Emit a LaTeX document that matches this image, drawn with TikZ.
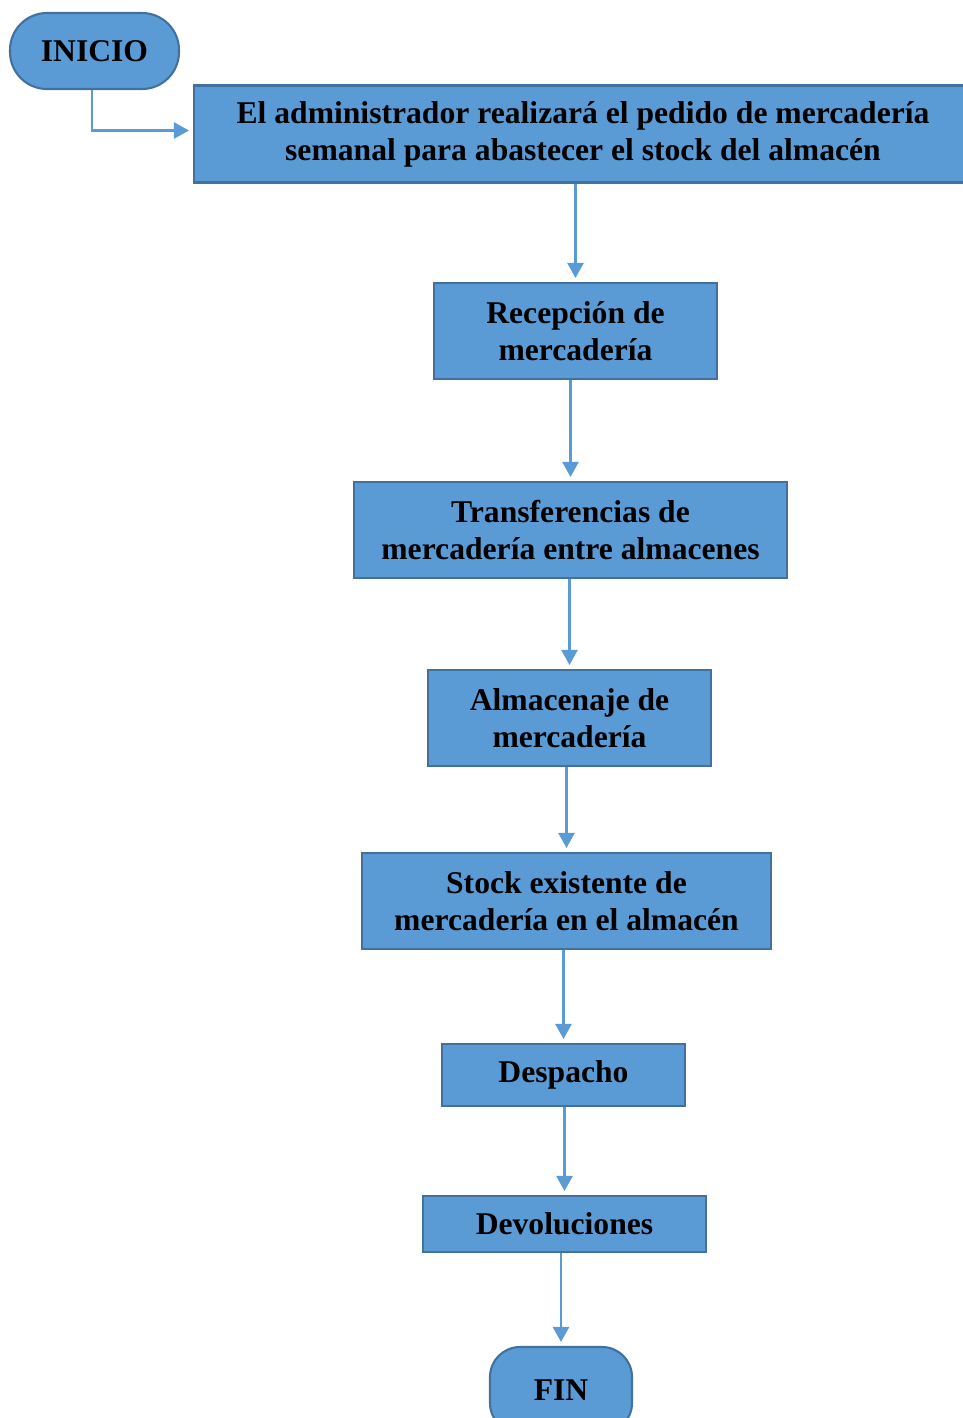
\documentclass[tikz,border=0pt]{standalone}
\usepackage{fontspec}
\setmainfont{Liberation Serif}
\usepackage{xcolor}
\usepackage{tikz}
\usetikzlibrary{arrows.meta,positioning}
\definecolor{cajaazul}{HTML}{5B9BD5}
\definecolor{bordeazul}{HTML}{41719C}

\begin{document}
\begin{tikzpicture}[
  font=\bfseries\fontsize{18}{21}\selectfont,
  paso/.style={draw=bordeazul,line width=1.2pt,fill=cajaazul,align=center,inner sep=2pt},
  terminal/.style={paso,rounded corners=0.74cm},
  flecha/.style={draw=cajaazul,line width=1.5pt,-{Triangle[length=0.3cm,width=0.32cm]},shorten >=0.08cm}
]
\useasboundingbox (0,0) rectangle (19.24,-28.36);

\node[terminal,minimum width=3.38cm,minimum height=1.52cm] (inicio) at (1.89,-1.02) {INICIO};
\node[paso,minimum width=15.56cm,minimum height=1.94cm] (pedido) at (11.66,-2.68) {El administrador realizará el pedido de mercadería\\semanal para abastecer el stock del almacén};
\node[paso,minimum width=5.66cm,minimum height=1.92cm] (recepcion) at (11.51,-6.62) {Recepción de\\mercadería};
\node[paso,minimum width=8.66cm,minimum height=1.92cm] (transfer) at (11.41,-10.60) {Transferencias de\\mercadería entre almacenes};
\node[paso,minimum width=5.66cm,minimum height=1.92cm] (almacenaje) at (11.39,-14.36) {Almacenaje de\\mercadería};
\node[paso,minimum width=8.18cm,minimum height=1.92cm] (stock) at (11.33,-18.02) {Stock existente de\\mercadería en el almacén};
\node[paso,minimum width=4.86cm,minimum height=1.24cm] (despacho) at (11.27,-21.50) {Despacho};
\node[paso,minimum width=5.66cm,minimum height=1.12cm] (devol) at (11.29,-24.48) {Devoluciones};
\node[terminal,rounded corners=0.6cm,minimum width=2.84cm,minimum height=1.72cm] (fin) at (11.22,-27.80) {FIN};

% conectores
\draw[flecha] ([xshift=-0.05cm]inicio.south) |- ([yshift=0.07cm]pedido.west);
\draw[flecha] (pedido.south -| recepcion.north) -- (recepcion.north);
\draw[flecha] (recepcion.south -| transfer.north) -- (transfer.north);
\draw[flecha] (transfer.south -| almacenaje.north) -- (almacenaje.north);
\draw[flecha] (almacenaje.south -| stock.north) -- (stock.north);
\draw[flecha] (stock.south -| despacho.north) -- (despacho.north);
\draw[flecha] (despacho.south -| devol.north) -- (devol.north);
\draw[flecha] (devol.south -| fin.north) -- (fin.north);
\end{tikzpicture}
\end{document}
